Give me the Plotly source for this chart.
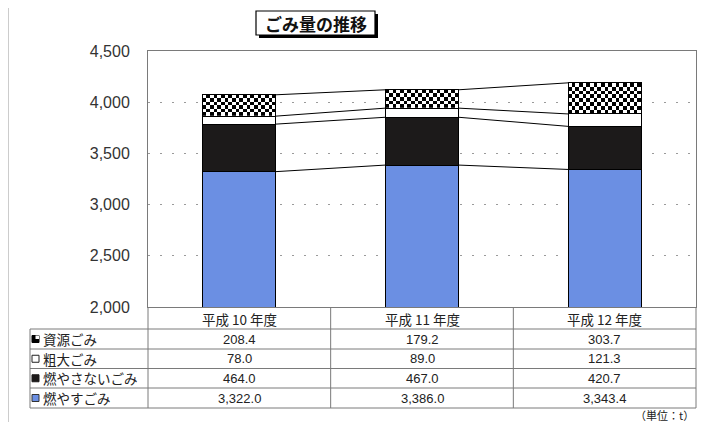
import plotly.graph_objects as go

# ---------------- data ----------------
categories = ["平成 10 年度", "平成 11 年度", "平成 12 年度"]
moyasu = [3322.0, 3386.0, 3343.4]        # 燃やすごみ
moyasanai = [464.0, 467.0, 420.7]        # 燃やさないごみ
sodai = [78.0, 89.0, 121.3]              # 粗大ごみ
shigen = [208.4, 179.2, 303.7]           # 資源ごみ
series_names = ["燃やすごみ", "燃やさないごみ", "粗大ごみ", "資源ごみ"]
y_tick_values = [2000, 2500, 3000, 3500, 4000, 4500]
y_tick_labels = ["2,000", "2,500", "3,000", "3,500", "4,000", "4,500"]
title_text = "ごみ量の推移"
unit_text = "（単位：t）"

# ---------------- layout helpers (page pixels; body has an 8px margin) ----------------
OFF = 8
W, H = 706 - OFF, 422 - OFF
PL, PR, PT, PB = 148, 696, 51, 307          # plot area in page pixels
L, T = PL - OFF, PT - OFF
R = W - (PR - OFF)
B = H - (PB - OFF)
PW, PH = PR - PL, PB - PT


def px(x):
    return (x - PL) / PW


def py(y):
    return (PB - y) / PH


BLUE = "#6b8fe3"
BLACK = "#1c1a1a"
LINE = "#7a7a7a"
JP = "Noto Sans CJK JP"
bw = 0.4
xs = list(range(len(categories)))

fig = go.Figure()

# checkered fill for 資源ごみ (drawn under the outlined bar)
ncols = 20
cell_h = 36
for i in xs:
    base = moyasu[i] + moyasanai[i] + sodai[i]
    nrows = max(1, round(shigen[i] / cell_h))
    hx = [i - bw / 2 + (c + 0.5) * bw / ncols for c in range(ncols)]
    hy = [base + (r + 0.5) * shigen[i] / nrows for r in range(nrows)]
    z = [[(r + c + 1) % 2 for c in range(ncols)] for r in range(nrows)]
    fig.add_trace(go.Heatmap(x=hx, y=hy, z=z, zmin=0, zmax=1,
                             colorscale=[[0, "white"], [1, "black"]],
                             showscale=False, hoverinfo="skip"))

series = [moyasu, moyasanai, sodai, shigen]
fills = [BLUE, BLACK, "white", "rgba(0,0,0,0)"]
for name, vals, col in zip(series_names, series, fills):
    fig.add_trace(go.Bar(x=xs, y=vals, width=bw, name=name,
                         marker=dict(color=col, line=dict(color="black", width=1))))

# series lines connecting segment tops
cum = [0.0] * len(xs)
for vals in series:
    cum = [c + v for c, v in zip(cum, vals)]
    lx, ly = [], []
    for i in range(len(xs) - 1):
        lx += [xs[i] + bw / 2, xs[i + 1] - bw / 2, None]
        ly += [cum[i], cum[i + 1], None]
    fig.add_trace(go.Scatter(x=lx, y=ly, mode="lines",
                             line=dict(color="black", width=1),
                             hoverinfo="skip", showlegend=False))

shapes = []
annotations = []


def ann(text, x, y, xref="paper", xanchor="center", size=13, family=JP, color="#222"):
    annotations.append(dict(text=text, xref=xref, yref="paper", x=x, y=y,
                            xanchor=xanchor, yanchor="middle", showarrow=False,
                            font=dict(family=family, size=size, color=color)))


# outer chart border (left / top)
shapes.append(dict(type="line", xref="paper", yref="paper", x0=px(8), x1=px(8),
                   y0=py(3), y1=py(430), line=dict(color="#9a9a9a", width=1)))
shapes.append(dict(type="line", xref="paper", yref="paper", x0=px(8), x1=px(720),
                   y0=py(3), y1=py(3), line=dict(color="#9a9a9a", width=1)))

# title box with shadow
shapes.append(dict(type="rect", xref="paper", yref="paper", x0=px(259), x1=px(378),
                   y0=py(14), y1=py(38), fillcolor="black", line=dict(width=0)))
shapes.append(dict(type="rect", xref="paper", yref="paper", x0=px(256), x1=px(375),
                   y0=py(11), y1=py(35), fillcolor="white",
                   line=dict(color="black", width=1.2)))
ann("<b>" + title_text + "</b>", px(315.5), py(23.5), size=17, color="#111")

# data table
row_lines = [329, 349, 368.5, 388, 408]
for yy in row_lines:
    shapes.append(dict(type="line", xref="paper", yref="paper", x0=px(30), x1=1,
                       y0=py(yy), y1=py(yy), line=dict(color=LINE, width=1)))
shapes.append(dict(type="line", xref="paper", yref="paper", x0=px(30), x1=px(30),
                   y0=py(329), y1=py(408), line=dict(color=LINE, width=1)))
for xp in [0, 1]:
    shapes.append(dict(type="line", xref="paper", yref="paper", x0=xp, x1=xp,
                       y0=py(307), y1=py(408), line=dict(color=LINE, width=1)))
for i in xs[:-1]:
    shapes.append(dict(type="line", xref="x", yref="paper", x0=i + 0.5, x1=i + 0.5,
                       y0=py(307), y1=py(408), line=dict(color=LINE, width=1)))

# category labels
for i, c in zip(xs, categories):
    ann(c.replace(" ", "&nbsp;"), i, py(318.5), xref="x", size=13.5)

# table rows (top to bottom)
table_rows = [("資源ごみ", shigen), ("粗大ごみ", sodai),
              ("燃やさないごみ", moyasanai), ("燃やすごみ", moyasu)]
for r, (name, vals) in enumerate(table_rows):
    yc = (row_lines[r] + row_lines[r + 1]) / 2
    ann(name, px(41), py(yc), xanchor="left", size=13.5)
    for i, v in zip(xs, vals):
        ann(f"{v:,.1f}", i, py(yc), xref="x", size=13, family="Arial")
    # legend keys
    k0, k1 = 32, 39
    t0, t1 = yc - 3.5, yc + 3.5
    if name == "資源ごみ":
        shapes.append(dict(type="rect", xref="paper", yref="paper", x0=px(k0), x1=px(k1),
                           y0=py(t0), y1=py(t1), fillcolor="black",
                           line=dict(color="black", width=1)))
        shapes.append(dict(type="rect", xref="paper", yref="paper", x0=px(35.5), x1=px(k1),
                           y0=py(t0), y1=py(yc), fillcolor="white", line=dict(width=0)))
    elif name == "粗大ごみ":
        shapes.append(dict(type="rect", xref="paper", yref="paper", x0=px(k0), x1=px(k1),
                           y0=py(t0), y1=py(t1), fillcolor="white",
                           line=dict(color="#222", width=1)))
    elif name == "燃やさないごみ":
        shapes.append(dict(type="rect", xref="paper", yref="paper", x0=px(k0), x1=px(k1),
                           y0=py(t0), y1=py(t1), fillcolor=BLACK,
                           line=dict(color=BLACK, width=1)))
    else:
        shapes.append(dict(type="rect", xref="paper", yref="paper", x0=px(k0), x1=px(k1),
                           y0=py(t0), y1=py(t1), fillcolor=BLUE,
                           line=dict(color="#333", width=1)))

# unit label
ann(unit_text, px(664), py(414.5), size=11)

fig.update_layout(
    width=W, height=H,
    margin=dict(l=L, r=R, t=T, b=B),
    barmode="stack",
    showlegend=False,
    plot_bgcolor="white",
    paper_bgcolor="white",
    shapes=shapes,
    annotations=annotations,
    xaxis=dict(range=[-0.5, len(xs) - 0.5], showticklabels=False, showgrid=False,
               zeroline=False, showline=True, mirror=True, linecolor=LINE, linewidth=1,
               ticks="", fixedrange=True),
    yaxis=dict(range=[y_tick_values[0], y_tick_values[-1]], tickvals=y_tick_values,
               ticktext=y_tick_labels, showgrid=True, gridcolor="#9a9a9a",
               griddash="2px,10px", gridwidth=1, zeroline=False, showline=True,
               mirror=True, linecolor=LINE, linewidth=1, ticks="",
               ticklabelstandoff=14,
               tickfont=dict(family="Arial", size=16, color="#333")),
)

fig.write_html("out.html")
